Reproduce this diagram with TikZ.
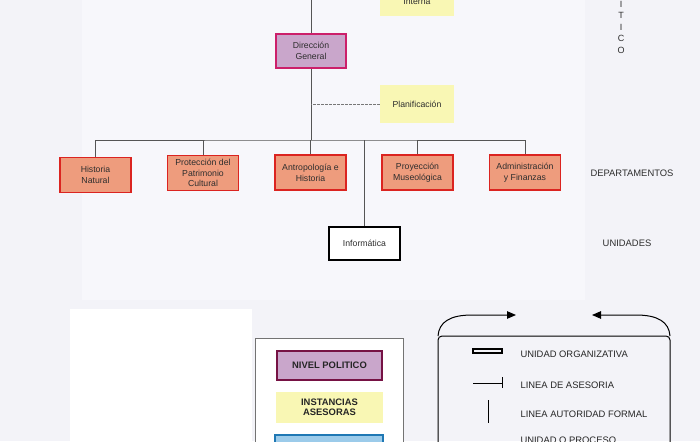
\documentclass[tikz,border=0pt]{standalone}
\usepackage{fontspec}
\setmainfont{Liberation Sans}
\usetikzlibrary{arrows.meta}
\definecolor{bgc}{HTML}{F3F3F8}
\definecolor{bgin}{HTML}{F7F7FB}
\definecolor{dgf}{HTML}{C9A6CB}
\definecolor{dgb}{HTML}{CC1F6A}
\definecolor{npb}{HTML}{761244}
\definecolor{yelf}{HTML}{F9F7B4}
\definecolor{depf}{HTML}{EE9C7D}
\definecolor{depb}{HTML}{DB2420}
\definecolor{bluf}{HTML}{9CCBEA}
\definecolor{blub}{HTML}{1F78B4}
\definecolor{txt}{HTML}{2E2E2E}
\definecolor{linec}{HTML}{555555}
\tikzset{
  boxtext/.style={align=center, text=txt, font=\fontsize{8.7}{10.7}\selectfont},
  dgbox/.style={boxtext, draw=dgb, fill=dgf, line width=1.8pt, minimum width=70pt, minimum height=34pt},
  asesor/.style={boxtext, fill=yelf, minimum width=74pt, minimum height=38pt},
  dept/.style={boxtext, draw=depb, fill=depf, line width=1.8pt, minimum width=71pt, minimum height=35pt},
  unitbox/.style={boxtext, draw=black, fill=white, line width=1.8pt, minimum width=71pt, minimum height=33pt},
  levellabel/.style={text=txt, font=\fontsize{9.4}{11}\selectfont},
  orgline/.style={draw=linec, line width=0.9pt},
  advline/.style={draw=linec!80, line width=0.7pt, dash pattern=on 2.5pt off 1.5pt},
  legtitle/.style={align=center, text=black!85, font=\bfseries\fontsize{9.4}{10.5}\selectfont},
  legtext/.style={anchor=west, text=black!85, font=\fontsize{9.4}{11}\selectfont},
  legline/.style={draw=black, line width=1pt},
  legarrow/.style={legline, -{Triangle[length=9pt,width=7.5pt]}}
}
\begin{document}
\begin{tikzpicture}[x=1pt,y=-1pt]
\useasboundingbox (0,0) rectangle (700,441);
\fill[bgc] (0,0) rectangle (700,441);
\fill[bgin] (82,0) rectangle (585,300);
\fill[white] (70,309) rectangle (252,441);

% top part
\coordinate (topline) at (311,0);
\node[asesor, minimum height=28pt] (interna) at (417,2) {Interna};
\node[dgbox] (dg) at (311,51) {Dirección\\General};
\node[asesor] (plan) at (417,104) {Planificación};
\node[text=txt, align=center, font=\fontsize{9}{11.6}\selectfont] (politico) at (621,27.2) {I\\T\\I\\C\\O};

% departments
\node[dept] (hn) at (95.5,175) {Historia\\Natural};
\node[dept] (pc) at (203,173) {Protección del\\Patrimonio\\Cultural};
\node[dept] (ah) at (310.5,172.5) {Antropología e\\Historia};
\node[dept] (pm) at (417.5,172.5) {Proyección\\Museológica};
\node[dept] (af) at (525,172.5) {Administración\\y Finanzas};
\node[levellabel] (deplab) at (632,173) {DEPARTAMENTOS};

\node[unitbox] (inf) at (364.5,243.5) {Informática};
\node[levellabel] (unilab) at (627,243) {UNIDADES};

% connectors
\coordinate (bus) at (311,140);
\draw[orgline] (topline) -- (dg.north);
\draw[orgline] (dg.south) -- (bus);
\draw[orgline] (hn.north) |- (bus) -| (af.north);
\draw[orgline] (pc.north) -- (pc.north |- bus);
\draw[orgline] (ah.north) -- (ah.north |- bus);
\draw[orgline] (pm.north) -- (pm.north |- bus);
\draw[orgline] (inf.north) -- (inf.north |- bus);
\draw[advline] (plan.west) -- (plan.west -| dg.south);

% legend left
\node[draw=black!55, fill=white, line width=0.8pt, minimum width=148pt, minimum height=120pt, anchor=north west] (legbox) at (255,338) {};
\node[legtitle, draw=npb, fill=dgf, line width=1.8pt, minimum width=105pt, minimum height=29pt] (np) at (329.5,365.5) {NIVEL POLITICO};
\node[legtitle, fill=yelf, minimum width=107pt, minimum height=31pt] (ia) at (329.5,407.5) {INSTANCIAS\\ASESORAS};
\node[draw=blub, fill=bluf, line width=1.8pt, minimum width=108pt, minimum height=30pt, anchor=north west] (ob) at (274,434) {};

% legend right
\coordinate (lbl) at (438,470);
\coordinate (ltl) at (438,336);
\coordinate (rtl) at (670,336);
\coordinate (rbl) at (670,470);
\coordinate (la) at (516,315);
\coordinate (ra) at (592,315);
\draw[legline, rounded corners=4pt] (lbl) -- (ltl) -- (rtl) -- (rbl);
\draw[legarrow] (ltl) .. controls (439,322) and (450,315) .. (472,315) -- (la);
\draw[legarrow] (rtl) .. controls (669,322) and (658,315) .. (636,315) -- (ra);

\draw[line width=1.2pt] (473,349) rectangle (502,353);
\coordinate (asA) at (473,383);
\coordinate (asB) at (502,383);
\draw[line width=0.7pt] (asA) -- (asB);
\draw[line width=0.7pt] (502,377) -- (502,388);
\draw[line width=0.7pt] (488,400) -- (488,423);
\node[legtext] (t1) at (517,354) {UNIDAD ORGANIZATIVA};
\node[legtext] (t2) at (517,385) {LINEA DE ASESORIA};
\node[legtext] (t3) at (517,414.5) {LINEA AUTORIDAD FORMAL};
\node[legtext] (t4) at (517,440.5) {UNIDAD O PROCESO};
\end{tikzpicture}
\end{document}
